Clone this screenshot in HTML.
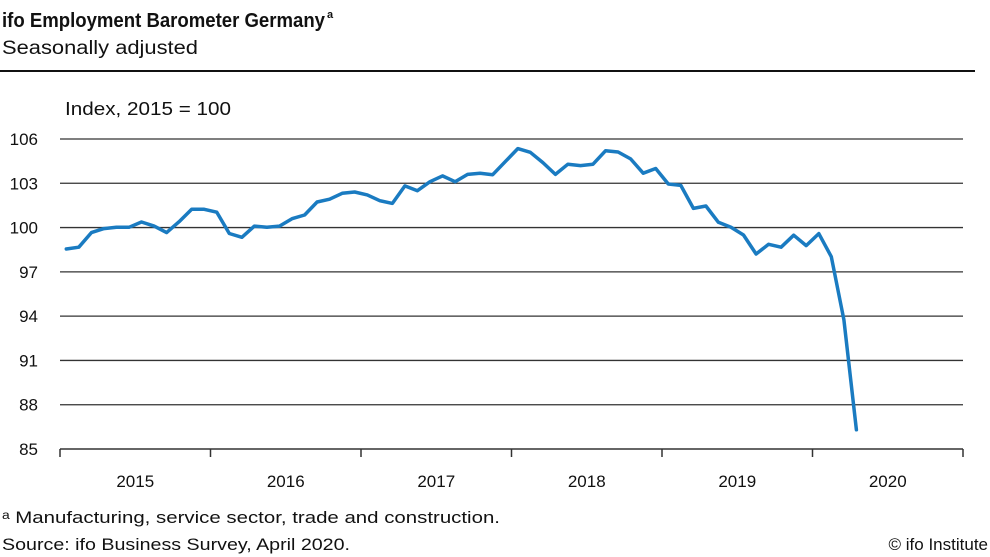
<!DOCTYPE html>
<html><head><meta charset="utf-8"><style>
html,body{margin:0;padding:0;background:#fff;}
svg{display:block;font-family:"Liberation Sans",sans-serif;}
</style></head><body>
<svg id="chart" width="990" height="557" viewBox="0 0 990 557">
<text x="2" y="27" font-size="20" font-weight="bold" fill="#111" textLength="323" lengthAdjust="spacingAndGlyphs">ifo Employment Barometer Germany</text>
<text x="327" y="18" font-size="11" font-weight="bold" fill="#111">a</text>
<text x="2" y="54" font-size="19" fill="#111" textLength="196" lengthAdjust="spacingAndGlyphs">Seasonally adjusted</text>
<rect x="0" y="70" width="975" height="2" fill="#111"/>
<text x="65" y="115" font-size="18" fill="#111" textLength="166" lengthAdjust="spacingAndGlyphs">Index, 2015 = 100</text>
<g id="grid"></g><g id="xaxis"></g><g id="series"></g>
<text x="2" y="523" font-size="17" fill="#111" textLength="498" lengthAdjust="spacingAndGlyphs">ᵃ Manufacturing, service sector, trade and construction.</text>
<text x="2" y="550" font-size="17" fill="#111" textLength="348" lengthAdjust="spacingAndGlyphs">Source: ifo Business Survey, April 2020.</text>
<text x="988" y="550" font-size="17" fill="#111" text-anchor="end">© ifo Institute</text>
</svg>
<script>
const yTicks = [85, 88, 91, 94, 97, 100, 103, 106];
const years = ["2015", "2016", "2017", "2018", "2019", "2020"];
const values = [98.55,98.67,99.66,99.93,100.02,100.02,100.38,100.1,99.66,100.4,101.24,101.24,
101.04,99.6,99.34,100.1,100.02,100.1,100.6,100.85,101.73,101.92,102.32,102.41,
102.21,101.82,101.64,102.82,102.5,103.11,103.5,103.11,103.6,103.68,103.58,104.46,
105.35,105.1,104.4,103.6,104.29,104.2,104.29,105.21,105.12,104.65,103.68,104.0,
102.95,102.86,101.3,101.46,100.36,100.02,99.5,98.21,98.87,98.67,99.48,98.78,
99.59,98.03,93.75,86.3];
const NS="http://www.w3.org/2000/svg";
const x0=60,x1=963,yTop=139,yBot=449,vMin=85,vMax=106,months=72;
const ys=v=>yBot-(v-vMin)/(vMax-vMin)*(yBot-yTop);
const xs=m=>x0+(m+0.5)*(x1-x0)/months;
const xy=yi=>x0+yi*12*(x1-x0)/months;
const grid=document.getElementById('grid'),xa=document.getElementById('xaxis'),se=document.getElementById('series');
function mk(tag,attrs,parent){const e=document.createElementNS(NS,tag);for(const k in attrs)e.setAttribute(k,attrs[k]);parent.appendChild(e);return e;}
yTicks.forEach(t=>{
  if(t!==vMin){const l=mk('line',{x1:x0,x2:x1,y1:ys(t),y2:ys(t),stroke:'#333','stroke-width':1.3},grid);
  
  }
  const tx=mk('text',{x:38,y:ys(t)+6,'font-size':17,'text-anchor':'end',fill:'#111'},grid);
  tx.textContent=t;
  
  
});
const ax=mk('line',{x1:x0,x2:x1,y1:yBot,y2:yBot,stroke:'#333','stroke-width':1.5},xa);


for(let i=0;i<=years.length;i++){
  const tk=mk('line',{x1:xy(i),x2:xy(i),y1:yBot,y2:yBot+8,stroke:'#333','stroke-width':1.5},xa);
  
  
}
years.forEach((yr,i)=>{
  const t=mk('text',{x:(xy(i)+xy(i+1))/2,y:487,'font-size':17,'text-anchor':'middle',fill:'#111'},xa);
  t.textContent=yr;
  
  
});
const p=mk('polyline',{points:values.map((v,i)=>xs(i).toFixed(1)+','+ys(v).toFixed(1)).join(' '),fill:'none',stroke:'#1a7bc1','stroke-width':3.5,'stroke-linejoin':'round','stroke-linecap':'round'},se);


</script>
</body></html>
